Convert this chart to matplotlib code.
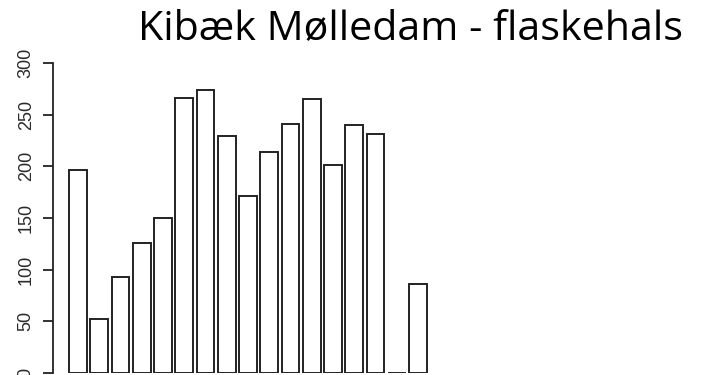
import matplotlib
matplotlib.use("Agg")
import matplotlib.pyplot as plt

# bottleneck counts per slot
counts = [196, 52, 93, 126, 150, 266, 274, 229, 171, 214, 241, 265, 201, 240, 231, 0, 86]
yticks = [0, 50, 100, 150, 200, 250, 300]
title = "Kibæk Mølledam - flaskehals"

W, H = 702, 375
fig = plt.figure(figsize=(W / 100, H / 100), dpi=100)

# barplot-style positions: width 1, space 0.2
pos = [0.7 + 1.2 * i for i in range(len(counts))]
unit = 17.71           # px per x unit
x0 = 65.5              # px of x=0
xl, xr = -0.706, 21.0
left_px = x0 + xl * unit
right_px = x0 + xr * unit
ax = fig.add_axes([left_px / W, 2 / H, (right_px - left_px) / W, 310 / H])

ax.bar(pos, counts, width=1.0, color="white", edgecolor="#222222", linewidth=1.4)
ax.set_xlim(xl, xr)
ax.set_ylim(0, 300)

for s in ["top", "right", "bottom"]:
    ax.spines[s].set_visible(False)
ax.spines["left"].set_bounds(0, 300)
ax.spines["left"].set_linewidth(1.3)
ax.spines["left"].set_color("#222222")
ax.set_xticks([])
ax.set_yticks(yticks)
ax.set_yticklabels([str(v) for v in yticks], rotation=90, va="center",
                   family="Liberation Sans", fontsize=13, color="#2a2a2a")
ax.tick_params(axis="y", length=7.2, width=1.3, color="#222222", pad=6)

t = fig.text(683 / W, (H - 39) / H, title, ha="right", va="baseline",
             family="Open Sans", fontsize=24, color="black")
fig.canvas.draw()
bb = t.get_window_extent()
t.set_fontsize(24 * 548 / bb.width)

fig.savefig("out.png", dpi=100)
